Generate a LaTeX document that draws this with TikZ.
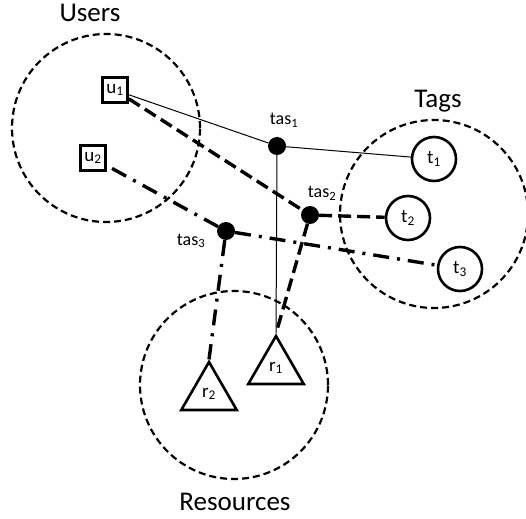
\documentclass[tikz,border=0pt]{standalone}
\usepackage{fontspec}
\setmainfont{Carlito}
\usetikzlibrary{shapes.geometric}

\begin{document}
\begin{tikzpicture}[x=1pt, y=-1pt,
  setc/.style={circle, draw, line width=2.2pt, dash pattern=on 7pt off 4pt, minimum size=188pt, inner sep=0pt},
  usr/.style={rectangle, draw, line width=2.6pt, minimum size=25pt, inner sep=0pt, font=\fontsize{19}{21}\selectfont},
  tg/.style={circle, draw, line width=2.6pt, minimum size=44pt, inner sep=0pt, font=\fontsize{19}{21}\selectfont},
  rsc/.style={regular polygon, regular polygon sides=3, draw, line width=2.6pt, minimum size=64pt, inner sep=0pt, font=\fontsize{19}{21}\selectfont},
  tasdot/.style={circle, fill, minimum size=18pt, inner sep=0pt},
  taslbl/.style={anchor=base, font=\fontsize{18}{20}\selectfont},
  biglbl/.style={anchor=base, font=\fontsize{27}{30}\selectfont},
  sol/.style={line width=1pt},
  dsh/.style={line width=3.4pt, dash pattern=on 13pt off 6pt},
  dshdot/.style={line width=3.4pt, dash pattern=on 16pt off 8pt on 3pt off 8pt}
]
\useasboundingbox (0,0) rectangle (526,518);

% gruppi
\node[setc] (users) at (106,128) {};
\node[setc] (tags) at (434,214) {};
\node[setc] (resources) at (234,385) {};
\node[biglbl] (userslbl) at (90,22) {Users};
\node[biglbl] (tagslbl) at (438,108) {Tags};
\node[biglbl] (reslbl) at (235,510) {Resources};

% utenti, tag, risorse
\node[usr] (u1) at (115,90) {u\textsubscript{1}};
\node[usr] (u2) at (93,158) {u\textsubscript{2}};
\node[tg] (t1) at (434,159) {t\textsubscript{1}};
\node[tg] (t2) at (408,218) {t\textsubscript{2}};
\node[tg] (t3) at (460,269) {t\textsubscript{3}};
\node[rsc] (r1) at (276,368) {r\textsubscript{1}};
\node[rsc] (r2) at (209,394) {r\textsubscript{2}};

% assegnazioni
\node[tasdot] (tas1) at (277,146) {};
\node[tasdot] (tas2) at (310,215) {};
\node[tasdot] (tas3) at (226,231) {};
\node[taslbl] (tas1lbl) at (284,125) {tas\textsubscript{1}};
\node[taslbl] (tas2lbl) at (322,198) {tas\textsubscript{2}};
\node[taslbl] (tas3lbl) at (191,245) {tas\textsubscript{3}};

% tas1
\draw[sol] (u1) -- (tas1) -- (t1);
\draw[sol] (tas1) -- (r1.corner 1);

% tas2
\draw[dsh] (u1) -- (tas2);
\draw[dsh] (tas2) -- (t2);
\draw[dsh] (tas2) -- (r1.corner 1);

% tas3
\draw[dshdot, shorten <=6pt] (u2) -- (tas3);
\draw[dshdot] (tas3) -- (t3);
\draw[dshdot] (tas3) -- (r2.corner 1);

\end{tikzpicture}
\end{document}
